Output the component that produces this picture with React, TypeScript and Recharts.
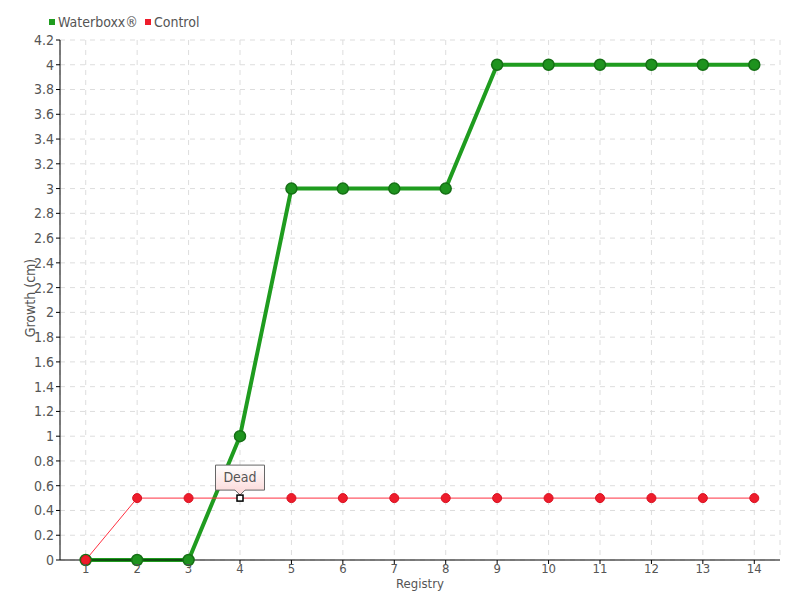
import React from 'react';
import { LineChart, Line, XAxis, YAxis, CartesianGrid } from 'recharts';

const registry = ['1', '2', '3', '4', '5', '6', '7', '8', '9', '10', '11', '12', '13', '14'];
const waterboxx = [0, 0, 0, 1, 3, 3, 3, 3, 4, 4, 4, 4, 4, 4];
const control = [0, 0.5, 0.5, 0.5, 0.5, 0.5, 0.5, 0.5, 0.5, 0.5, 0.5, 0.5, 0.5, 0.5];
const yTicks = [0, 0.2, 0.4, 0.6, 0.8, 1, 1.2, 1.4, 1.6, 1.8, 2, 2.2, 2.4, 2.6, 2.8, 3, 3.2, 3.4, 3.6, 3.8, 4, 4.2];
const controlAnnotations = [{ index: 3, text: 'Dead' }];

const data = registry.map((r, i) => ({ registry: r, waterboxx: waterboxx[i], control: control[i] }));

const FONT = '"DejaVu Sans Condensed", "Liberation Sans Narrow", sans-serif';
const GREEN = '#1f9c1f';
const RED = '#ee1c2b';

const GreenDot = (props: any) => {
  const { cx, cy, index } = props;
  if (cx == null || cy == null) return null;
  return <circle key={`g${index}`} cx={cx} cy={cy} r={5.5} fill="#1e931e" stroke="#157015" strokeWidth={1.5} />;
};

const RedDot = (props: any) => {
  const { cx, cy, index } = props;
  if (cx == null || cy == null) return null;
  const ann = controlAnnotations.find((a) => a.index === index);
  if (ann) {
    const w = 49;
    const h = 25;
    const bx = cx - w / 2;
    const by = cy - 33;
    const path = `M${bx},${by} H${bx + w} V${by + h} H${cx + 5} L${cx},${by + h + 5} L${cx - 5},${by + h} H${bx} Z`;
    return (
      <g key={`r${index}`}>
        <defs>
          <linearGradient id="annGrad" x1="0" y1="0" x2="0" y2="1">
            <stop offset="0%" stopColor="#ffffff" />
            <stop offset="100%" stopColor="#fbd6d6" />
          </linearGradient>
        </defs>
        <path d={path} fill="url(#annGrad)" stroke="#666" strokeWidth={1} />
        <text x={cx} y={by + 17} textAnchor="middle" fontFamily={FONT} fontSize={14} fill="#555">
          {ann.text}
        </text>
        <rect x={cx - 3} y={cy - 3} width={6} height={6} fill="#fff" stroke="#000" strokeWidth={1.5} />
      </g>
    );
  }
  return <circle key={`r${index}`} cx={cx} cy={cy} r={4.5} fill={RED} stroke="#d81020" strokeWidth={1} />;
};

const legendItems = [
  { label: 'Waterboxx®', color: GREEN },
  { label: 'Control', color: RED },
];

export default function App() {
  return (
    <div style={{ position: 'fixed', left: 0, top: 0, width: 800, height: 600, background: '#fff' }}>
      <div
        style={{
          position: 'absolute',
          left: 49,
          top: 13,
          display: 'flex',
          alignItems: 'center',
          fontFamily: FONT,
          fontSize: 14,
          color: '#555',
          lineHeight: '18px',
        }}
      >
        {legendItems.map((it) => (
          <span key={it.label} style={{ display: 'flex', alignItems: 'center', marginRight: 7 }}>
            <span style={{ display: 'inline-block', width: 6, height: 6, background: it.color, marginRight: 3 }} />
            {it.label}
          </span>
        ))}
      </div>
      <LineChart width={800} height={600} data={data} margin={{ top: 40, right: 20, left: 0, bottom: 0 }}>
        <CartesianGrid stroke="#dddddd" strokeDasharray="5 5" />
        <XAxis
          dataKey="registry"
          scale="band"
          height={40}
          stroke="#000"
          tickSize={4}
          tickMargin={0}
          tick={{ fontFamily: FONT, fontSize: 13, fill: '#555' }}
          label={{
            content: (p: any) => {
              const vb = p.viewBox || { x: 60, y: 560, width: 720 };
              return (
                <text x={vb.x + vb.width / 2} y={vb.y + 28} textAnchor="middle" fontFamily={FONT} fontSize={13} fill="#555">
                  Registry
                </text>
              );
            },
          }}
        />
        <YAxis
          width={60}
          domain={[0, 4.2]}
          ticks={yTicks}
          interval={0}
          stroke="#000"
          tickSize={4}
          tickMargin={2}
          tickFormatter={(v: number) => String(Number(v.toFixed(1)))}
          tick={{ fontFamily: FONT, fontSize: 14, fill: '#555' }}
          label={{
            content: (p: any) => {
              const vb = p.viewBox || { x: 0, y: 40, width: 60, height: 520 };
              const x = vb.x + 35;
              const y = vb.y + vb.height / 2 - 2;
              return (
                <text x={x} y={y} transform={`rotate(-90 ${x} ${y})`} textAnchor="middle" fontFamily={FONT} fontSize={14} fill="#555">
                  Growth (cm)
                </text>
              );
            },
          }}
        />
        <Line
          type="linear"
          dataKey="waterboxx"
          name="Waterboxx®"
          stroke={GREEN}
          strokeWidth={4}
          dot={<GreenDot />}
          activeDot={false}
          isAnimationActive={false}
        />
        <Line
          type="linear"
          dataKey="control"
          name="Control"
          stroke="#ff3040"
          strokeWidth={1}
          dot={<RedDot />}
          activeDot={false}
          isAnimationActive={false}
        />
      </LineChart>
    </div>
  );
}
